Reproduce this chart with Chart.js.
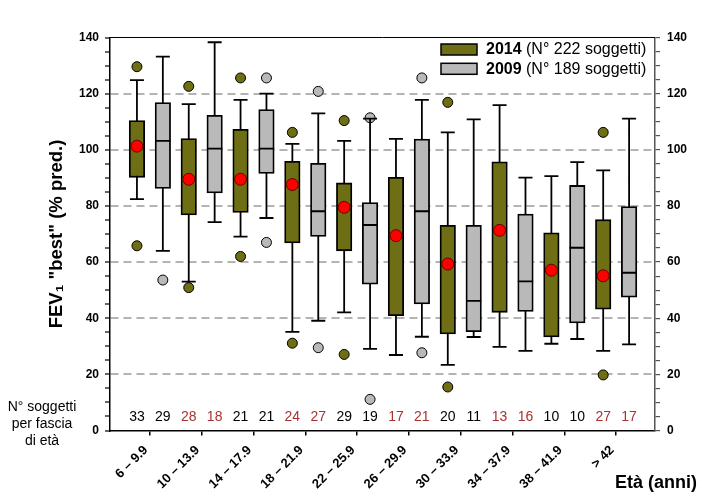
<!DOCTYPE html>
<html>
<head>
<meta charset="utf-8">
<script src="https://cdn.jsdelivr.net/npm/chart.js@4.4.1/dist/chart.umd.min.js"></script>
<style>html,body{margin:0;background:#fff}</style>
</head>
<body>
<canvas id="chart" width="726" height="500"></canvas>
<script>
// age groups (x categories)
const groups = ['6 – 9.9', '10 – 13.9', '14 – 17.9', '18 – 21.9', '22 – 25.9',
  '26 – 29.9', '30 – 33.9', '34 – 37.9', '38 – 41.9', '> 42'];

// 2014 series
const wLo14 = [82.4, 53.0, 69.1, 35.1, 42.1, 26.9, 23.4, 29.8, 30.9, 28.4];
const q1_14 = [90.2, 76.8, 77.7, 66.8, 64.0, 40.9, 34.4, 42.1, 33.3, 43.2];
const q3_14 = [110.4, 104.0, 107.3, 95.9, 88.2, 90.2, 73.1, 95.7, 70.4, 75.1];
const wHi14 = [124.8, 116.3, 117.8, 102.1, 103.2, 103.9, 106.2, 115.9, 90.6, 92.7];
const mean14 = [101.3, 89.5, 89.5, 87.6, 79.5, 69.4, 59.3, 71.3, 57.1, 55.1];
const out14 = [[129.6, 65.8], [122.6, 50.9], [125.6, 62.0], [106.2, 31.1], [110.4, 27.1],
  [], [116.9, 15.5], [], [], [106.2, 19.8]];
const counts14 = [33, 28, 21, 24, 29, 17, 20, 13, 10, 27];

// 2009 series
const wLo09 = [64.0, 74.2, 75.7, 39.1, 29.1, 33.4, 33.3, 28.4, 32.6, 30.7];
const q1_09 = [86.2, 84.6, 91.6, 69.1, 52.1, 45.1, 35.2, 42.4, 38.3, 47.5];
const med09 = [103.2, 100.4, 100.4, 78.1, 73.2, 78.1, 46.2, 53.1, 65.1, 56.2];
const q3_09 = [116.8, 112.3, 114.3, 95.2, 81.2, 103.8, 73.1, 77.1, 87.3, 79.8];
const wHi09 = [133.2, 138.3, 120.0, 113.0, 111.1, 117.8, 110.8, 90.1, 95.6, 111.1];
const out09 = [[53.6], [], [125.6, 67.0], [120.8, 29.5], [111.4, 11.1], [125.6, 27.7],
  [], [], [], []];
const counts09 = [29, 18, 21, 27, 19, 21, 11, 16, 10, 17];

// legend
const series = ['2014', '2009'];
const nSubjects = [222, 189];

const OLIVE = '#6e6e14';
const GRAY = '#b9b9b9';
const RED_TXT = '#a83232';
const FONT = "'Liberation Sans', Arial, sans-serif";
const S = 0.25; // offset of each box from the group centre

const boxData = (lo, hi, off) => groups.map((_, i) => ({ x: i + off, y: [lo[i], hi[i]] }));
const pts = (vals, off) => vals.map((v, i) => ({ x: i + off, y: v }));
const outPts = (list, off) => list.flatMap((vs, i) => vs.map(v => ({ x: i + off, y: v })));
const whisk = (lo, hi, off) => groups.flatMap((_, i) =>
  [{ x: i + off, y: lo[i] }, { x: i + off, y: hi[i] }, { x: i + off, y: null }]);

const extras = {
  id: 'extras',
  afterDatasetsDraw(chart) {
    const { ctx, chartArea, scales: { x, y } } = chart;
    ctx.save();
    // top frame line
    ctx.strokeStyle = '#000';
    ctx.lineWidth = 1;
    ctx.beginPath();
    ctx.moveTo(chartArea.left, chartArea.top);
    ctx.lineTo(chartArea.right, chartArea.top);
    ctx.stroke();

    // subject counts
    ctx.font = '14px ' + FONT;
    ctx.textAlign = 'center';
    ctx.textBaseline = 'middle';
    groups.forEach((g, i) => {
      ctx.fillStyle = i % 2 ? RED_TXT : '#000';
      ctx.fillText(String(counts14[i]), x.getPixelForValue(i - S), y.getPixelForValue(4.6));
      ctx.fillText(String(counts09[i]), x.getPixelForValue(i + S), y.getPixelForValue(4.6));
    });

    // legend
    const fills = [OLIVE, GRAY];
    series.forEach((name, k) => {
      const ty = chartArea.top + 6.5 + k * 19.3;
      ctx.fillStyle = fills[k];
      ctx.fillRect(441, ty, 36, 11);
      ctx.strokeStyle = '#000';
      ctx.lineWidth = 1.5;
      ctx.strokeRect(441, ty, 36, 11);
      ctx.fillStyle = '#000';
      ctx.textAlign = 'left';
      ctx.font = 'bold 16px ' + FONT;
      ctx.fillText(name, 486, ty + 6);
      const w = ctx.measureText(name + ' ').width;
      ctx.font = '16px ' + FONT;
      ctx.fillText('(N° ' + nSubjects[k] + ' soggetti)', 486 + w, ty + 6);
    });

    // side notes
    ctx.font = '14px ' + FONT;
    ctx.textAlign = 'center';
    ['N° soggetti', 'per fascia', 'di età'].forEach((t, k) => ctx.fillText(t, 42, 407 + k * 17));
    ctx.font = 'bold 18px ' + FONT;
    ctx.textAlign = 'left';
    ctx.fillText('Età (anni)', 615, 483);
    ctx.restore();
  }
};

const yTicks = {
  min: 0, max: 140,
  ticks: {
    stepSize: 5, autoSkip: false, color: '#000',
    font: { family: FONT, size: 12, weight: 'bold' },
    callback: v => (v % 20 === 0 ? v : '')
  }
};

new Chart(document.getElementById('chart'), {
  type: 'scatter',
  data: {
    datasets: [
      { type: 'scatter', label: 'mean 2014', data: pts(mean14, -S), order: 0,
        pointRadius: 6, pointHoverRadius: 6, backgroundColor: '#ff0000', borderColor: '#6a0000', borderWidth: 1 },
      { type: 'scatter', label: 'median 2009', data: pts(med09, S), order: 1,
        pointStyle: 'line', pointRadius: 7.7, borderColor: '#000', borderWidth: 1.8 },
      { type: 'bar', label: '2014', data: boxData(q1_14, q3_14, -S), order: 2,
        grouped: false, barThickness: 15.5, backgroundColor: OLIVE, borderColor: '#000',
        borderWidth: 1.8, borderSkipped: false },
      { type: 'bar', label: '2009', data: boxData(q1_09, q3_09, S), order: 2,
        grouped: false, barThickness: 15.5, backgroundColor: GRAY, borderColor: '#000',
        borderWidth: 1.8, borderSkipped: false },
      { type: 'scatter', label: 'caps', order: 3,
        data: [...pts(wLo14, -S), ...pts(wHi14, -S), ...pts(wLo09, S), ...pts(wHi09, S)],
        pointStyle: 'line', pointRadius: 7, borderColor: '#000', borderWidth: 1.8 },
      { type: 'scatter', label: 'whiskers', order: 4, showLine: true, spanGaps: false,
        data: [...whisk(wLo14, wHi14, -S), ...whisk(wLo09, wHi09, S)],
        pointRadius: 0, borderColor: '#000', borderWidth: 1.8 },
      { type: 'scatter', label: 'outliers 2014', data: outPts(out14, -S), order: 5,
        pointRadius: 5, backgroundColor: OLIVE, borderColor: '#000', borderWidth: 1 },
      { type: 'scatter', label: 'outliers 2009', data: outPts(out09, S), order: 5,
        pointRadius: 5, backgroundColor: GRAY, borderColor: '#000', borderWidth: 1 }
    ]
  },
  options: {
    responsive: false,
    animation: false,
    layout: { padding: { top: 37.5, left: 0, right: 0, bottom: 0 } },
    plugins: { legend: { display: false }, tooltip: { enabled: false } },
    scales: {
      x: {
        type: 'linear', min: -0.77, max: 9.75, offset: false,
        afterBuildTicks: s => { s.ticks = groups.map((_, i) => ({ value: i })); },
        afterFit: s => { s.height = 69.5; },
        ticks: {
          autoSkip: false, minRotation: 45, maxRotation: 45, padding: 7, labelOffset: -4, color: '#000',
          font: { family: FONT, size: 13, weight: 'bold' },
          callback: v => groups[v]
        },
        grid: { offset: false, drawOnChartArea: false, tickLength: 5, tickColor: '#000', lineWidth: 1.5 },
        border: { color: '#000', width: 1.5 }
      },
      y: {
        ...yTicks,
        position: 'left',
        afterFit: s => { s.width = 110; },
        ticks: { ...yTicks.ticks, padding: 6 },
        title: {
          display: true, text: 'FEV₁ "best" (% pred.)', color: '#000',
          font: { family: FONT, size: 18.5, weight: 'bold' }, padding: { top: 46, bottom: 0 }
        },
        grid: {
          tickLength: 5, tickColor: '#000', lineWidth: 2, tickWidth: 1.2,
          color: c => (c.tick.value % 20 === 0 && c.tick.value > 0 && c.tick.value < 140) ? '#b4b4b4' : 'rgba(0,0,0,0)'
        },
        border: { color: '#000', width: 1.5, dash: [8, 5] }
      },
      y2: {
        ...yTicks,
        position: 'right',
        afterFit: s => { s.width = 71; },
        ticks: { ...yTicks.ticks, padding: 7 },
        grid: { drawOnChartArea: false, tickLength: 5, tickColor: '#555', lineWidth: 1.2 },
        border: { color: '#555', width: 1.5 }
      }
    }
  },
  plugins: [extras]
});
</script>
</body>
</html>
